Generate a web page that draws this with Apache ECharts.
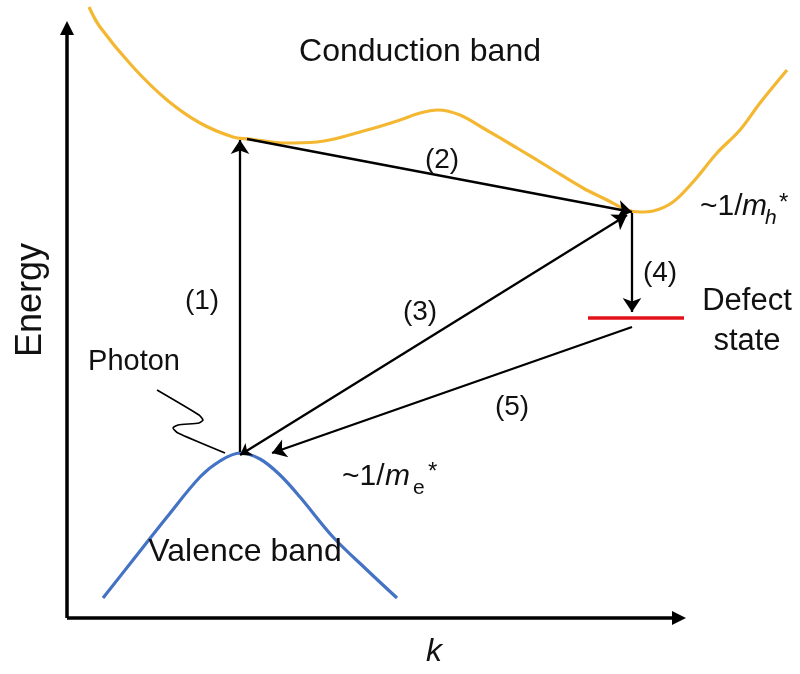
<!DOCTYPE html>
<html>
<head>
<meta charset="utf-8">
<script src="https://cdn.jsdelivr.net/npm/echarts@6/dist/echarts.min.js"></script>
<style>
html,body{margin:0;padding:0;background:#fff;}
#chart{width:800px;height:674px;}
</style>
</head>
<body>
<div id="chart"></div>
<script>
// ---- data (arbitrary k / energy units) ----
var conductionK = [22,33,66,100,133,166,183,216,250,300,333,353,371,393,416,450,483,516,540,560,573,586,606,626,650,673,693,720];
var conductionE = [611,591,551,518,495,481,479,475,476,488,498,505,508,503,490,470,450,430,418,408,406,407,416,436,465,488,515,548];
var valenceK = [36,66,100,133,153,173,193,213,233,266,300,330];
var valenceE = [20,58,101,141,157,165,159,143,121,81,48,20];
var photonK = [90,132,136,132,111,106,111,158];
var photonE = [228,203,198,195,193,190,185,165];
var defectK = [521,617];
var defectE = [300,300];
// axes drawn as arrows: [k1,E1,k2,E2]
var kAxis = [0,0,612,0];
var energyAxis = [0,0,0,590];
// transitions: [k1,E1,k2,E2]
var arrow1 = [173,166,173,478];
var arrow2 = [180,479,565,406];
var arrow3 = [173,163,560,403];
var arrow4 = [565,405,565,306];
var arrow5 = [565,291,205,165];
var transitionLabels = ['(1)','(2)','(3)','(4)','(5)'];

function zip(a,b){return a.map(function(v,i){return [v,b[i]];});}
function seg(a){return {coords:[[a[0],a[1]],[a[2],a[3]]]};}

var FONT = '"Liberation Sans", Arial, sans-serif';
var TXT = '#111';
function txt(text, x, y, size, opts){
  opts = opts || {};
  return {
    type:'text', x:x, y:y, rotation: opts.rotation || 0, z:100,
    style:{
      text:text, fill:TXT,
      font:(opts.italic?'italic ':'') + size + 'px ' + FONT,
      align: opts.align || 'center', textAlign: opts.align || 'center',
      verticalAlign:'middle', textVerticalAlign:'middle',
      lineHeight: opts.lineHeight
    }
  };
}

var chart = echarts.init(document.getElementById('chart'), null, {renderer:'canvas'});
var axisCommon = {
  type:'value',
  axisLine:{show:false}, axisTick:{show:false}, axisLabel:{show:false}, splitLine:{show:false}
};
chart.setOption({
  animation:false,
  backgroundColor:'#fff',
  grid:{left:67, right:0, top:0, bottom:56},
  xAxis: Object.assign({}, axisCommon, {min:0, max:733}),
  yAxis: Object.assign({}, axisCommon, {min:0, max:618}),
  series:[
    {type:'lines', coordinateSystem:'cartesian2d', clip:false, symbol:['none','path://M5,0 L10,10 L0,10 Z'], symbolSize:[14,14], z:6,
     lineStyle:{color:'#000', width:3.5, opacity:1},
     data:[seg(kAxis), seg(energyAxis)]},
    {type:'line', name:'Conduction band', data:zip(conductionK, conductionE), smooth:0.35, showSymbol:false, clip:false,
     lineStyle:{color:'#F4B731', width:3.2}},
    {type:'line', name:'Valence band', data:zip(valenceK, valenceE), smooth:0.35, showSymbol:false, clip:false,
     lineStyle:{color:'#4472C4', width:3.2}},
    {type:'line', name:'Photon', data:zip(photonK, photonE), smooth:0.2, showSymbol:false, clip:false,
     lineStyle:{color:'#000', width:1.6}},
    {type:'line', name:'Defect state', data:zip(defectK, defectE), showSymbol:false, clip:false,
     lineStyle:{color:'#E3121A', width:3.5}},
    {type:'lines', coordinateSystem:'cartesian2d', clip:false, symbol:['none','arrow'], symbolSize:[11,14], z:5,
     lineStyle:{color:'#000', width:2.3, opacity:1},
     data:[seg(arrow1), seg(arrow2), seg(arrow4), seg(arrow5)]},
    {type:'lines', coordinateSystem:'cartesian2d', clip:false, symbol:['arrow','arrow'], symbolSize:[11,14], z:5,
     lineStyle:{color:'#000', width:2.3, opacity:1},
     data:[seg(arrow3)]}
  ],
  graphic:[
    txt('Conduction band', 420, 52, 32),
    txt('Valence band', 245, 552, 32),
    txt('Photon', 134, 362, 29),
    txt('Defect\nstate', 747, 321, 31, {lineHeight:40}),
    txt(transitionLabels[0], 202, 301, 28),
    txt(transitionLabels[1], 442, 160, 28),
    txt(transitionLabels[2], 420, 312, 28),
    txt(transitionLabels[3], 660, 273, 28),
    txt(transitionLabels[4], 512, 407, 28),
    txt('Energy', 31, 300, 36, {rotation:Math.PI/2}),
    txt('k', 434, 652, 32, {italic:true}),
    // ~1/m_h*
    txt('~1/', 700, 207, 30, {align:'left'}),
    txt('m', 742, 207, 30, {align:'left', italic:true}),
    txt('h', 765, 218, 21, {align:'left', italic:true}),
    txt('*', 779, 203, 24, {align:'left'}),
    // ~1/m_e*
    txt('~1/', 342, 477, 30, {align:'left'}),
    txt('m', 385, 477, 30, {align:'left', italic:true}),
    txt('e', 413, 488, 21, {align:'left'}),
    txt('*', 428, 472, 24, {align:'left'})
  ]
});
</script>
</body>
</html>
